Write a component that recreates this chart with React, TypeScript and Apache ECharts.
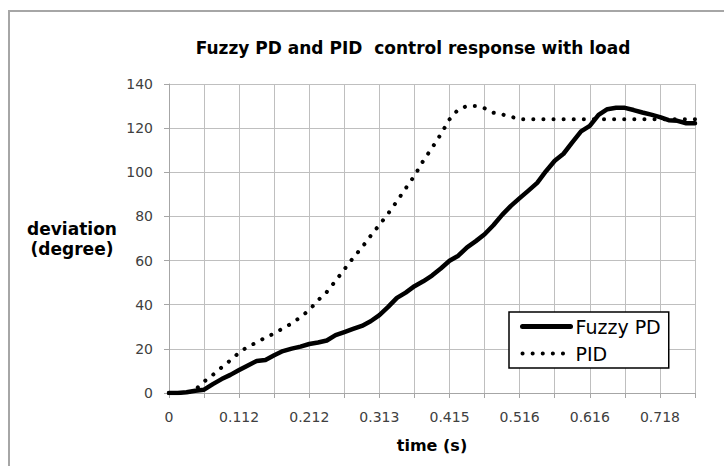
import React, { useEffect, useRef } from 'react';
import * as echarts from 'echarts';

const titleText = 'Fuzzy PD and PID  control response with load';
const xAxisName = 'time (s)';
const yAxisName = 'deviation\n(degree)';
const seriesNames = ['Fuzzy PD', 'PID'];

// sample times (s); only every 8th one is labelled on the axis
const times = [
  '0', '0.014', '0.028', '0.042', '0.056', '0.070', '0.084', '0.098',
  '0.112', '0.125', '0.137', '0.150', '0.162', '0.175', '0.187', '0.200',
  '0.212', '0.225', '0.237', '0.250', '0.263', '0.275', '0.288', '0.300',
  '0.313', '0.326', '0.338', '0.351', '0.364', '0.377', '0.389', '0.402',
  '0.415', '0.428', '0.440', '0.453', '0.465', '0.478', '0.491', '0.503',
  '0.516', '0.528', '0.541', '0.553', '0.566', '0.578', '0.591', '0.603',
  '0.616', '0.629', '0.641', '0.654', '0.667', '0.680', '0.692', '0.705',
  '0.718', '0.731', '0.743', '0.756', '0.769',
];

const fuzzyPD = [
  0, 0, 0.3, 1.0, 1.5, 4.0, 6.3, 8.2,
  10.4, 12.5, 14.5, 15.0, 17.1, 19.0, 20.1, 21.0,
  22.2, 22.9, 23.8, 26.2, 27.6, 29.0, 30.4, 32.5,
  35.3, 39.0, 43.1, 45.5, 48.4, 50.6, 53.2, 56.4,
  59.9, 62.2, 66.0, 68.8, 71.9, 76.0, 80.7, 84.8,
  88.3, 91.7, 95.2, 100.5, 105.2, 108.4, 113.5, 118.5,
  121.0, 126.0, 128.6, 129.2, 129.2, 128.2, 127.1, 126.1,
  125.0, 123.6, 123.3, 122.2, 122.2,
];

const pid = [
  0, 0, 0, 1.5, 5.2, 8.2, 11.6, 14.8,
  18.3, 21.0, 22.9, 25.1, 27.0, 29.3, 31.5, 34.4,
  37.6, 42.0, 45.8, 50.8, 56.0, 61.2, 65.9, 71.2,
  76.2, 81.3, 86.9, 92.7, 98.4, 105.2, 111.0, 117.2,
  124.0, 128.5, 130.0, 130.0, 129.0, 127.0, 126.2, 125.2,
  124.1, 124.0, 124.0, 124.0, 124.0, 124.0, 124.0, 124.0,
  124.0, 124.0, 124.0, 124.0, 124.0, 124.0, 124.0, 124.0,
  124.0, 124.0, 124.0, 124.0, 124.0,
];

const yMin = 0;
const yMax = 140;
const yStep = 20;

const FONT = 'DejaVu Sans';

export default function App() {
  const ref = useRef<HTMLDivElement>(null);

  useEffect(() => {
    if (!ref.current) return;
    const chart = echarts.init(ref.current, null, { renderer: 'svg' });
    chart.setOption({
      animation: false,
      backgroundColor: '#ffffff',
      textStyle: { fontFamily: FONT },
      color: ['#000000', '#000000'],
      grid: { left: 169, right: 29, top: 84, bottom: 73 },
      graphic: [
        {
          type: 'rect',
          silent: true,
          shape: { x: 9, y: 11, width: 800, height: 600 },
          style: { fill: 'none', stroke: '#a6a6a6', lineWidth: 2 },
        },
        {
          type: 'text',
          x: 413,
          y: 48,
          style: {
            text: titleText,
            align: 'center',
            verticalAlign: 'middle',
            textAlign: 'center',
            textVerticalAlign: 'middle',
            fontFamily: FONT,
            fontSize: 17,
            fontWeight: 'bold',
            fill: '#000000',
          },
        },
      ],
      legend: {
        data: [
          { name: seriesNames[0], lineStyle: { width: 5 } },
          { name: seriesNames[1], lineStyle: { width: 4 } },
        ],
        orient: 'vertical',
        left: 509,
        top: 312,
        padding: [5, 8, 5, 11],
        itemGap: 8,
        itemWidth: 48,
        itemHeight: 20,
        itemStyle: { opacity: 0 },
        backgroundColor: '#ffffff',
        borderColor: '#000000',
        borderWidth: 1.5,
        borderRadius: 0,
        textStyle: { fontSize: 19, color: '#000000', fontFamily: FONT },
      },
      xAxis: {
        type: 'category',
        data: times,
        boundaryGap: false,
        axisLine: { lineStyle: { color: '#a6a6a6', width: 1 } },
        axisTick: { show: true, interval: 3, length: 5, lineStyle: { color: '#a6a6a6' } },
        axisLabel: { interval: 7, margin: 17, color: '#404040', fontSize: 14, fontFamily: FONT },
        splitLine: { show: true, interval: 3, lineStyle: { color: '#bfbfbf', width: 1 } },
        name: xAxisName,
        nameLocation: 'middle',
        nameGap: 52,
        nameTextStyle: { fontWeight: 'bold', fontSize: 16, color: '#000000', fontFamily: FONT, verticalAlign: 'middle' },
      },
      yAxis: {
        type: 'value',
        min: yMin,
        max: yMax,
        interval: yStep,
        axisLine: { show: true, lineStyle: { color: '#a6a6a6' } },
        axisTick: { show: true, length: 5, lineStyle: { color: '#a6a6a6' } },
        axisLabel: { margin: 16, color: '#404040', fontSize: 14, fontFamily: FONT },
        splitLine: { show: true, lineStyle: { color: '#bfbfbf', width: 1 } },
        name: yAxisName,
        nameLocation: 'middle',
        nameRotate: 0,
        nameGap: 97,
        nameTextStyle: {
          fontWeight: 'bold', fontSize: 17, color: '#000000', fontFamily: FONT,
          align: 'center', verticalAlign: 'middle', lineHeight: 20,
        },
      },
      series: [
        {
          name: 'PID',
          type: 'line',
          data: pid,
          symbol: 'none',
          showSymbol: false,
          lineStyle: { color: '#000000', width: 4, type: [0.1, 10], cap: 'round' },
          z: 2,
        },
        {
          name: 'Fuzzy PD',
          type: 'line',
          data: fuzzyPD,
          symbol: 'none',
          showSymbol: false,
          lineStyle: { color: '#000000', width: 4.5, join: 'round', cap: 'round' },
          z: 3,
        },
      ],
    });
    return () => chart.dispose();
  }, []);

  return (
    <div
      ref={ref}
      style={{ position: 'absolute', left: 0, top: 0, width: 724, height: 466 }}
    />
  );
}
